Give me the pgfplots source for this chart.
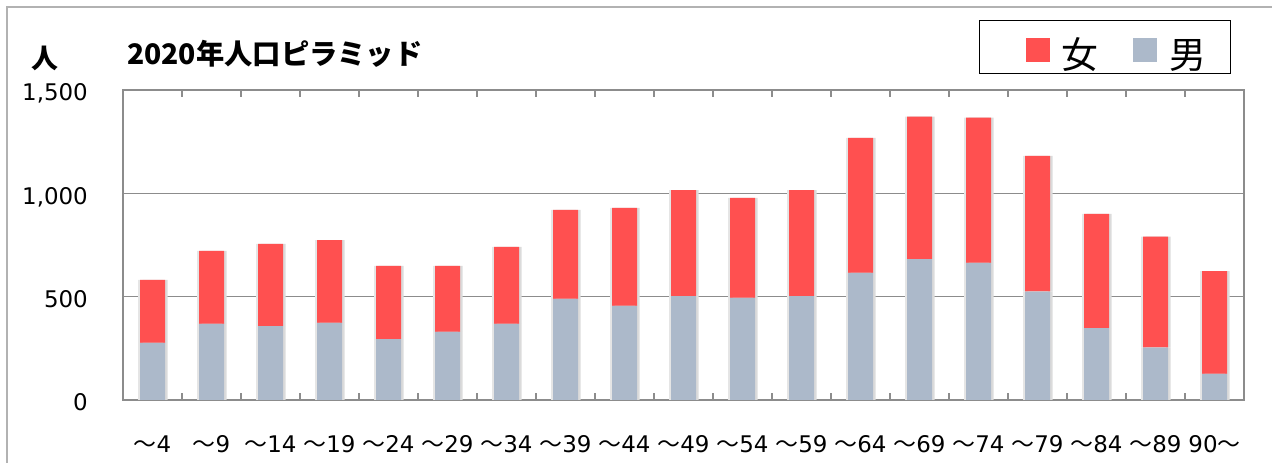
\documentclass[border=0pt]{standalone}
\usepackage{fontspec}
\setmainfont{DejaVu Sans}
\newfontfamily\cjk{Noto Sans CJK JP}
\usepackage{pgfplots}
\pgfplotsset{compat=1.18}
\usepackage{pgfplotstable}
\definecolor{fem}{HTML}{FF5050}
\definecolor{mal}{HTML}{ACB9CA}
\definecolor{gridc}{HTML}{8C8C8C}
\pgfplotstableread{
x male female
0 276 305
1 368 353
2 358 397
3 373 401
4 295 354
5 329 320
6 368 373
7 489 431
8 455 474
9 503 513
10 494 484
11 503 513
12 615 653
13 682 689
14 663 703
15 524 657
16 348 552
17 253 537
18 126 498
}\data
\newcommand\legsq[1]{%
  \pgfpathrectangle{\pgfpoint{0bp}{-7bp}}{\pgfpoint{58bp}{24bp}}\pgfusepath{use as bounding box}%
  \pgfpathrectangle{\pgfpoint{24bp}{-15bp}}{\pgfpoint{24bp}{24bp}}\pgfsetfillcolor{#1}\pgfusepath{fill}}
\begin{document}
\begin{tikzpicture}[x=1bp,y=1bp]
\useasboundingbox (0,0) rectangle (1272,463);
\draw[color=black!30, line width=2bp] (7,0) -- (7,456) -- (1272,456);
\node[anchor=base west, inner sep=0pt, font=\cjk\bfseries\fontsize{28.4}{28.4}\selectfont] at (127,398) {2020年人口ピラミッド};
\node[anchor=base, inner sep=0pt, font=\cjk\bfseries\fontsize{27}{27}\selectfont] at (45,394) {人};
\begin{axis}[
  at={(123bp,63bp)}, anchor=south west,
  width=1121bp, height=310bp, scale only axis,
  ybar stacked, bar width=25bp,
  xmin=-0.5, xmax=18.5, ymin=0, ymax=1500,
  enlargelimits=false,
  ytick={0,500,1000,1500},
  ymajorgrids, grid style={gridc, line width=1.5bp},
  axis line style={gridc, line width=1.5bp},
  xtick={0,...,18},
  xticklabels={{\cjk ～}4,{\cjk ～}9,{\cjk ～}14,{\cjk ～}19,{\cjk ～}24,{\cjk ～}29,{\cjk ～}34,{\cjk ～}39,{\cjk ～}44,{\cjk ～}49,{\cjk ～}54,{\cjk ～}59,{\cjk ～}64,{\cjk ～}69,{\cjk ～}74,{\cjk ～}79,{\cjk ～}84,{\cjk ～}89,90{\cjk ～}},
  minor xtick={-0.5,0.5,...,18.5},
  major tick length=0pt, minor tick length=7bp, tick align=inside,
  minor x tick style={gridc, line width=1.5bp},
  ytick style={draw=none},
  /pgf/number format/.cd, 1000 sep={,}, assume math mode=true, /pgfplots/.cd,
  xticklabel style={anchor=base, inner sep=0pt, yshift=-53bp, font=\fontsize{23}{23}\selectfont},
  yticklabel style={anchor=base east, inner sep=0pt, xshift=-35bp, yshift=-11bp, font=\fontsize{23}{23}\selectfont},
  reverse legend,
  legend style={at={(0.7636,1.226)}, anchor=north west, draw=black, line width=1bp, fill=white,
    legend columns=2, font=\cjk\fontsize{37}{37}\selectfont,
    inner xsep=22bp, inner ysep=2bp,
    /tikz/every even column/.append style={column sep=9bp}},
  legend cell align=left,
]
\addplot[fill=mal, draw=none,
  preaction={fill=black!14, transform canvas={xshift=2.5bp}},
  preaction={fill=black!10, transform canvas={xshift=-2bp}},
  legend image code/.code={\legsq{mal}}]
  table[x=x, y=male] {\data};
\addplot[fill=fem, draw=none,
  preaction={fill=black!14, transform canvas={xshift=2.5bp}},
  preaction={fill=black!10, transform canvas={xshift=-2bp}},
  legend image code/.code={\legsq{fem}}]
  table[x=x, y=female] {\data};
\legend{\rule{0pt}{43.6bp}男,\rule{0pt}{43.6bp}女}
\end{axis}
\end{tikzpicture}
\end{document}
